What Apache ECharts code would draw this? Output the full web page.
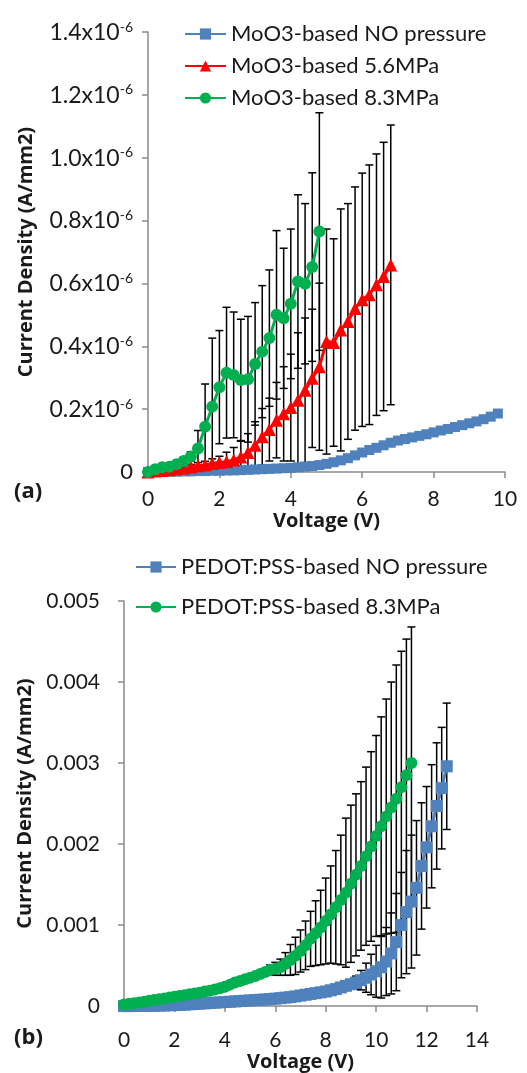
<!DOCTYPE html>
<html>
<head>
<meta charset="utf-8">
<script src="https://cdn.jsdelivr.net/npm/echarts@6/dist/echarts.min.js"></script>
<style>
  html, body { margin: 0; padding: 0; background: #fff; }
  #chart { width: 527px; height: 1073px; }
</style>
</head>
<body>
<div id="chart"></div>
<script>
// (a) MoO3-based devices, current density read in units of 1e-6 A/mm2
const moo3Voltage = [0, 0.2, 0.4, 0.6, 0.8, 1, 1.2, 1.4, 1.6, 1.8, 2, 2.2, 2.4, 2.6, 2.8, 3, 3.2, 3.4, 3.6, 3.8,
  4, 4.2, 4.4, 4.6, 4.8, 5, 5.2, 5.4, 5.6, 5.8, 6, 6.2, 6.4, 6.6, 6.8, 7, 7.2, 7.4, 7.6, 7.8,
  8, 8.2, 8.4, 8.6, 8.8, 9, 9.2, 9.4, 9.6, 9.8]
const moo3NoPressure = [0, 0, 0.001, 0.001, 0.001, 0.002, 0.002, 0.003, 0.003, 0.004,
  0.004, 0.005, 0.005, 0.006, 0.007, 0.008, 0.009, 0.010, 0.011, 0.012,
  0.013, 0.015, 0.017, 0.019, 0.022, 0.026, 0.031, 0.037, 0.044, 0.053,
  0.062, 0.070, 0.077, 0.085, 0.093, 0.100, 0.105, 0.110, 0.115, 0.120,
  0.126, 0.132, 0.137, 0.143, 0.149, 0.155, 0.161, 0.168, 0.176, 0.186]
const moo3Mpa56 = [0, 0.003, 0.005, 0.007, 0.010, 0.013, 0.016, 0.020, 0.022, 0.027,
  0.030, 0.033, 0.038, 0.048, 0.062, 0.085, 0.112, 0.135, 0.165, 0.185,
  0.205, 0.228, 0.260, 0.298, 0.335, 0.415, 0.412, 0.452, 0.479, 0.520,
  0.548, 0.564, 0.596, 0.622, 0.659]
const moo3Mpa56Err = [0.002, 0.003, 0.004, 0.005, 0.006, 0.007, 0.008, 0.010, 0.012, 0.015,
  0.020, 0.030, 0.040, 0.050, 0.060, 0.075, 0.090, 0.100, 0.120, 0.150,
  0.170, 0.215, 0.230, 0.220, 0.266, 0.358, 0.330, 0.385, 0.375, 0.387,
  0.403, 0.413, 0.416, 0.427, 0.445]
const moo3Mpa83 = [0, 0.009, 0.015, 0.017, 0.025, 0.035, 0.049, 0.075, 0.144, 0.208,
  0.270, 0.316, 0.309, 0.293, 0.295, 0.344, 0.383, 0.426, 0.500, 0.489,
  0.535, 0.606, 0.599, 0.652, 0.765]
const moo3Mpa83Err = [0.002, 0.004, 0.006, 0.008, 0.010, 0.012, 0.015, 0.057, 0.136, 0.218,
  0.180, 0.208, 0.200, 0.193, 0.200, 0.195, 0.210, 0.217, 0.268, 0.223,
  0.238, 0.276, 0.255, 0.300, 0.378]
const moo3Ticks = [0, 0.2, 0.4, 0.6, 0.8, 1.0, 1.2, 1.4]

// (b) PEDOT:PSS-based devices, current density read in units of 1e-3 A/mm2
const pedotVoltage = [0, 0.2, 0.4, 0.6, 0.8, 1, 1.2, 1.4, 1.6, 1.8, 2, 2.2, 2.4, 2.6, 2.8, 3, 3.2, 3.4, 3.6, 3.8,
  4, 4.2, 4.4, 4.6, 4.8, 5, 5.2, 5.4, 5.6, 5.8, 6, 6.2, 6.4, 6.6, 6.8, 7, 7.2, 7.4, 7.6, 7.8,
  8, 8.2, 8.4, 8.6, 8.8, 9, 9.2, 9.4, 9.6, 9.8, 10, 10.2, 10.4, 10.6, 10.8, 11, 11.2, 11.4, 11.6, 11.8,
  12, 12.2, 12.4, 12.6, 12.8]
const pedotNoPressure = [0, 0, 0.001, 0.002, 0.003, 0.004, 0.005, 0.006, 0.008, 0.010,
  0.012, 0.015, 0.018, 0.022, 0.026, 0.030, 0.034, 0.038, 0.042, 0.046,
  0.050, 0.054, 0.058, 0.062, 0.066, 0.070, 0.074, 0.078, 0.082, 0.087,
  0.092, 0.098, 0.105, 0.110, 0.120, 0.130, 0.140, 0.150, 0.160, 0.170,
  0.180, 0.195, 0.210, 0.230, 0.250, 0.270, 0.290, 0.320, 0.350, 0.390,
  0.430, 0.480, 0.550, 0.650, 0.790, 1.000, 1.160, 1.290, 1.460, 1.730,
  1.960, 2.220, 2.470, 2.690, 2.960]
const pedotNoPressureErr = [0, 0, 0, 0, 0, 0, 0, 0, 0, 0,
  0, 0, 0, 0, 0, 0, 0, 0, 0, 0,
  0, 0, 0, 0, 0, 0, 0, 0, 0, 0,
  0, 0, 0, 0, 0, 0, 0, 0, 0, 0,
  0, 0, 0, 0, 0, 0.05, 0.08, 0.12, 0.18, 0.25,
  0.32, 0.38, 0.42, 0.50, 0.60, 0.65, 0.76, 0.82, 0.83, 0.78,
  0.75, 0.76, 0.78, 0.75, 0.78]
const pedotMpa83 = [0.020, 0.030, 0.035, 0.045, 0.055, 0.065, 0.075, 0.085, 0.095, 0.105,
  0.115, 0.125, 0.135, 0.145, 0.155, 0.165, 0.180, 0.190, 0.205, 0.220,
  0.240, 0.265, 0.290, 0.310, 0.330, 0.350, 0.370, 0.395, 0.420, 0.450,
  0.460, 0.480, 0.520, 0.570, 0.620, 0.680, 0.750, 0.830, 0.900, 0.970,
  1.050, 1.130, 1.220, 1.310, 1.400, 1.510, 1.620, 1.730, 1.850, 1.970,
  2.100, 2.220, 2.340, 2.450, 2.560, 2.700, 2.850, 3.000]
const pedotMpa83Err = [0, 0, 0, 0, 0, 0, 0, 0, 0, 0,
  0, 0, 0, 0, 0, 0, 0, 0, 0, 0,
  0, 0, 0, 0, 0, 0, 0, 0, 0.04, 0.06,
  0.08, 0.10, 0.14, 0.19, 0.23, 0.26, 0.30, 0.34, 0.40, 0.46,
  0.53, 0.60, 0.70, 0.80, 0.92, 0.97, 1.00, 1.04, 1.10, 1.17,
  1.24, 1.35, 1.45, 1.55, 1.65, 1.68, 1.68, 1.68]
const pedotTicks = [0, 0.001, 0.002, 0.003, 0.004, 0.005]

const FONT = 'Lato'
const BOLD = 'Open Sans'
const INK = '#1a1a1a'
const AXIS = '#8a8a8a'
const BLUE = '#4f81bd'
const RED = '#ff0000'
const GREEN = '#00b050'

function points(xs, ys, unit) {
  return ys.map((y, i) => [xs[i], y * unit])
}

function bars(xs, ys, errs, unit) {
  return ys.map((y, i) => [xs[i], (y - errs[i]) * unit, (y + errs[i]) * unit])
    .filter((d, i) => errs[i] > 0)
}

// vertical error bar with caps
function errorBar(params, api) {
  const x = api.value(0)
  const lo = api.coord([x, api.value(1)])
  const hi = api.coord([x, api.value(2)])
  const half = 4
  const style = { stroke: '#000', lineWidth: 1.5 }
  return {
    type: 'group',
    children: [
      { type: 'line', shape: { x1: hi[0], y1: hi[1], x2: lo[0], y2: lo[1] }, style: style },
      { type: 'line', shape: { x1: hi[0] - half, y1: hi[1], x2: hi[0] + half, y2: hi[1] }, style: style },
      { type: 'line', shape: { x1: lo[0] - half, y1: lo[1], x2: lo[0] + half, y2: lo[1] }, style: style }
    ]
  }
}

function errSeries(data, idx) {
  return {
    type: 'custom', xAxisIndex: idx, yAxisIndex: idx, renderItem: errorBar,
    data: data, encode: { x: 0, y: [1, 2] }, clip: true, z: 1, silent: true
  }
}

function lineSeries(name, data, idx, color, symbol, size) {
  return {
    name: name, type: 'line', xAxisIndex: idx, yAxisIndex: idx, data: data,
    symbol: symbol, symbolSize: size, showAllSymbol: true,
    lineStyle: { width: 3, color: color }, itemStyle: { color: color },
    emphasis: { disabled: true }, z: 3
  }
}

const axisLine = { show: true, lineStyle: { color: AXIS, width: 1.5 } }
const axisTick = { show: true, length: 6, lineStyle: { color: AXIS, width: 1.5 } }
const nameStyle = { fontFamily: BOLD, fontSize: 20, fontWeight: 'bold', color: INK }
const labelStyle = { fontFamily: FONT, fontSize: 21, color: INK }
const legendText = { fontFamily: FONT, fontSize: 22, color: INK, lineHeight: 22 }

const option = {
  animation: false,
  backgroundColor: '#fff',
  textStyle: { fontFamily: FONT },
  grid: [
    { left: 148, right: 22, top: 32, height: 440 },
    { left: 124, right: 50, top: 601, height: 407 }
  ],
  legend: [
    {
      data: ['MoO3-based NO pressure', 'MoO3-based 5.6MPa', 'MoO3-based 8.3MPa'],
      orient: 'vertical', left: 179, top: 18, itemWidth: 41, itemHeight: 14, itemGap: 10,
      textStyle: legendText
    },
    {
      data: ['PEDOT:PSS-based NO pressure', 'PEDOT:PSS-based 8.3MPa'],
      orient: 'vertical', left: 130, top: 551, itemWidth: 40, itemHeight: 14, itemGap: 18,
      textStyle: legendText
    }
  ],
  xAxis: [
    {
      gridIndex: 0, type: 'value', min: 0, max: 10, interval: 2,
      name: 'Voltage (V)', nameLocation: 'middle', nameGap: 38, nameTextStyle: nameStyle,
      axisLine: axisLine, axisTick: axisTick, splitLine: { show: false },
      axisLabel: Object.assign({ margin: 17 }, labelStyle)
    },
    {
      gridIndex: 1, type: 'value', min: 0, max: 14, interval: 2,
      name: 'Voltage (V)', nameLocation: 'middle', nameGap: 43, nameTextStyle: nameStyle,
      axisLine: axisLine, axisTick: axisTick, splitLine: { show: false },
      axisLabel: Object.assign({ margin: 24 }, labelStyle)
    }
  ],
  yAxis: [
    {
      gridIndex: 0, type: 'value', min: 0, max: moo3Ticks[moo3Ticks.length - 1] * 1e-6, interval: 0.2e-6,
      name: 'Current Density (A/mm2)', nameLocation: 'middle', nameGap: 112, nameTextStyle: nameStyle,
      axisLine: axisLine, axisTick: axisTick, splitLine: { show: false },
      axisLabel: {
        margin: 15,
        formatter: function (v) {
          const t = Math.round(v * 1e7) / 10
          return t === 0 ? '{z|0}' : '{n|' + t.toFixed(1) + 'x10}{s|-6}'
        },
        rich: {
          z: { fontFamily: FONT, fontSize: 22, color: INK },
          n: { fontFamily: FONT, fontSize: 23, color: INK, lineHeight: 24, verticalAlign: 'bottom', padding: [5, 0, 0, 0] },
          s: { fontFamily: FONT, fontSize: 14, color: INK, lineHeight: 14, verticalAlign: 'top' }
        }
      }
    },
    {
      gridIndex: 1, type: 'value', min: 0, max: pedotTicks[pedotTicks.length - 1], interval: 0.001,
      name: 'Current Density (A/mm2)', nameLocation: 'middle', nameGap: 85, nameTextStyle: nameStyle,
      axisLine: axisLine, axisTick: axisTick, splitLine: { show: false },
      axisLabel: Object.assign({
        margin: 24,
        formatter: function (v) {
          return v === 0 ? '0' : v.toFixed(3)
        }
      }, labelStyle)
    }
  ],
  graphic: [
    { type: 'text', left: 14, top: 481, style: { text: '(a)', font: 'bold 22px "Open Sans"', fill: INK } },
    { type: 'text', left: 14, top: 1027, style: { text: '(b)', font: 'bold 22px "Open Sans"', fill: INK } }
  ],
  series: [
    errSeries(bars(moo3Voltage, moo3Mpa56, moo3Mpa56Err, 1e-6), 0),
    errSeries(bars(moo3Voltage, moo3Mpa83, moo3Mpa83Err, 1e-6), 0),
    lineSeries('MoO3-based NO pressure', points(moo3Voltage, moo3NoPressure, 1e-6), 0, BLUE, 'rect', 10),
    lineSeries('MoO3-based 5.6MPa', points(moo3Voltage, moo3Mpa56, 1e-6), 0, RED, 'triangle', 13),
    lineSeries('MoO3-based 8.3MPa', points(moo3Voltage, moo3Mpa83, 1e-6), 0, GREEN, 'circle', 12),

    errSeries(bars(pedotVoltage, pedotNoPressure, pedotNoPressureErr, 1e-3), 1),
    errSeries(bars(pedotVoltage, pedotMpa83, pedotMpa83Err, 1e-3), 1),
    lineSeries('PEDOT:PSS-based NO pressure', points(pedotVoltage, pedotNoPressure, 1e-3), 1, BLUE, 'rect', 12),
    lineSeries('PEDOT:PSS-based 8.3MPa', points(pedotVoltage, pedotMpa83, 1e-3), 1, GREEN, 'circle', 12)
  ]
}

const chart = echarts.init(document.getElementById('chart'))
chart.setOption(option)
</script>
</body>
</html>
